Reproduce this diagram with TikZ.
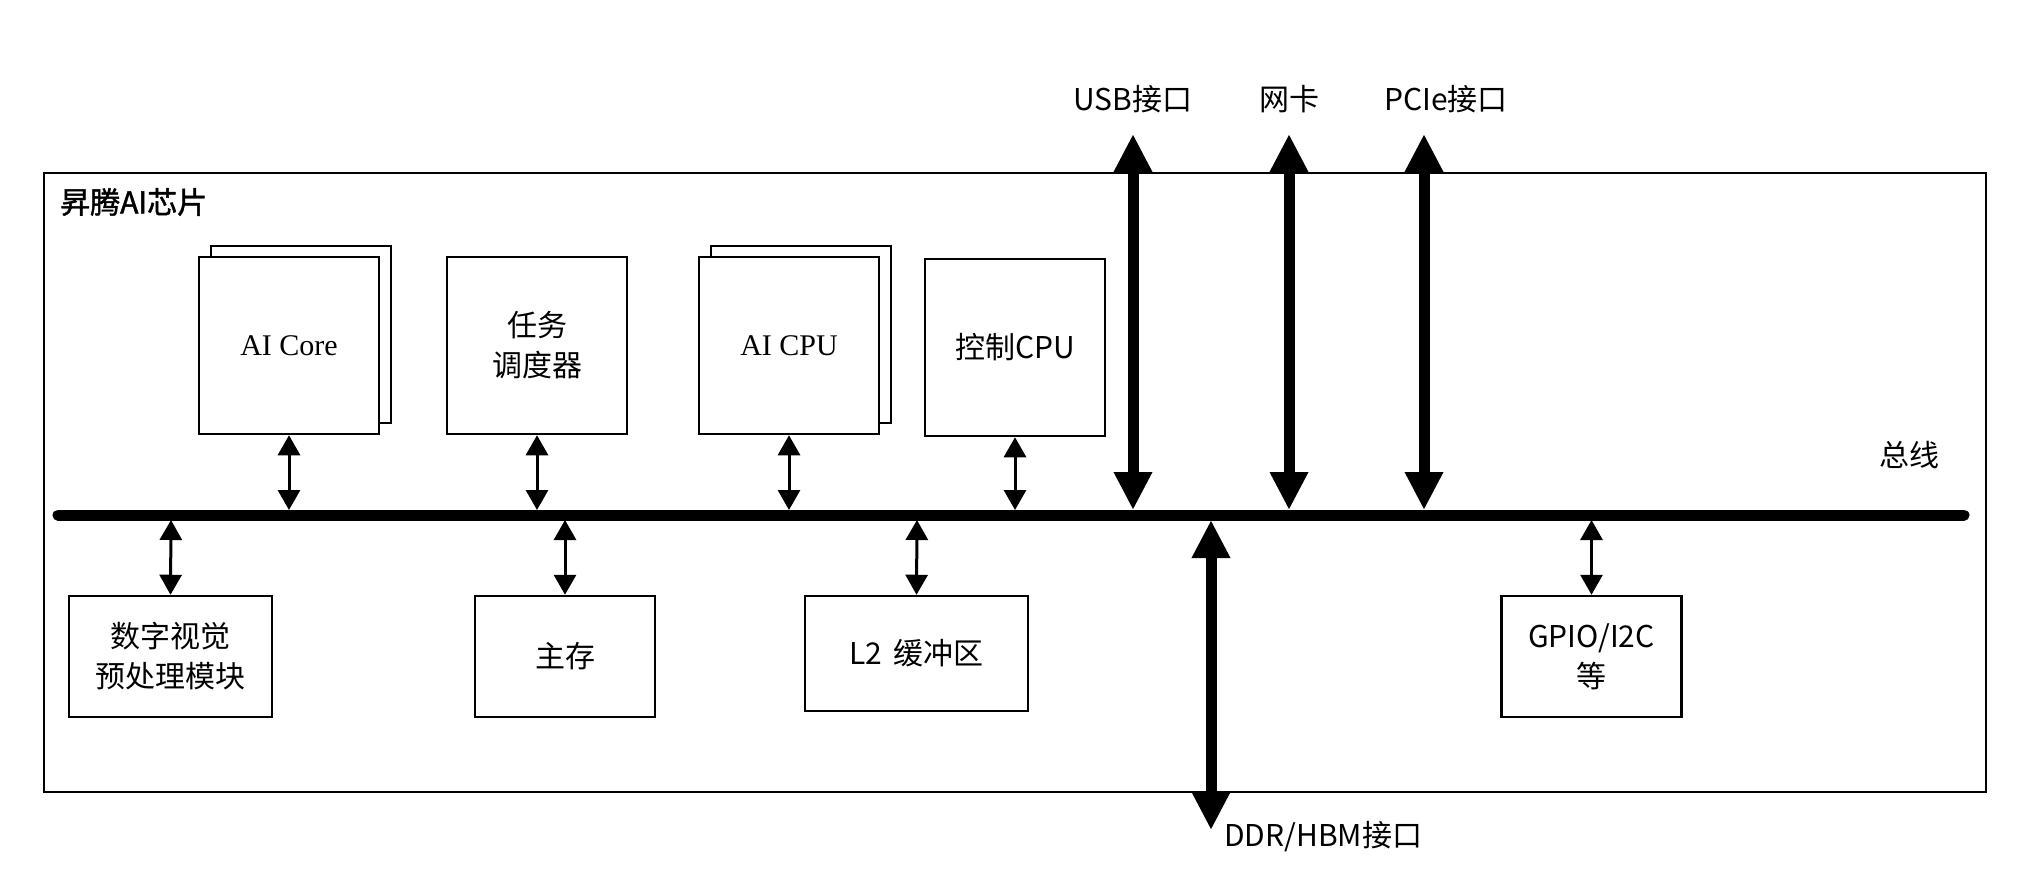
\documentclass[tikz,border=0pt]{standalone}
\usepackage{fontspec}
\setmainfont{Liberation Serif}
\newfontfamily\cjk{Noto Sans CJK SC}
\newfontfamily\cjkbold[FakeBold=1.5]{Noto Sans CJK SC}
\usetikzlibrary{arrows.meta}
\begin{document}
\begin{tikzpicture}[x=1pt,y=-1pt,
  txt/.style={font={\fontsize{30}{40}\selectfont\cjk}, inner sep=0pt, align=center},
  blk/.style={draw, line width=2.5pt, fill=white, inner sep=0pt, align=center,
    minimum width=180pt, minimum height=177pt},
  cblk/.style={blk, font={\fontsize{30}{40}\selectfont\cjk}},
  lblk/.style={blk, font={\fontsize{30}{40}\selectfont}},
  thin/.style={line width=3pt, {Triangle[length=20pt,width=22pt]}-{Triangle[length=20pt,width=22pt]}},
  thick/.style={line width=11pt, {Triangle[length=38pt,width=36pt]}-{Triangle[length=38pt,width=36pt]}},
  busline/.style={line width=11pt, line cap=round}
]
\useasboundingbox[fill=white] (0,0) rectangle (2043,875);

% chip outline
\node[draw, line width=2.5pt, minimum width=1942pt, minimum height=619pt, inner sep=0pt] (chip) at (1015,482.5) {};
\node[txt, font={\fontsize{30}{40}\selectfont\cjkbold}, anchor=west] (title) at (60,202) {昇腾AI芯片};

% top row blocks
\node[draw, line width=2.5pt, fill=white, minimum width=180pt, minimum height=177pt] (aicoreb) at (301,334.5) {};
\node[lblk] (aicore) at (289,345.5) {AI Core};
\node[cblk] (sched) at (537,345.5) {任务\\调度器};
\node[draw, line width=2.5pt, fill=white, minimum width=180pt, minimum height=177pt] (aicpub) at (801,334.5) {};
\node[lblk] (aicpu) at (789,345.5) {AI CPU};
\node[cblk] (ctrl) at (1015,347.5) {控制CPU};

% bottom row blocks
\node[cblk, minimum width=203pt, minimum height=121pt] (dvpp) at (170.5,656.5) {数字视觉\\预处理模块};
\node[cblk, minimum width=180pt, minimum height=121pt] (mem) at (565,656.5) {主存};
\node[cblk, minimum width=223pt, minimum height=115pt] (l2) at (916.5,653.5) {L2\hspace{12pt}缓冲区};
\node[cblk, minimum width=180pt, minimum height=121pt] (gpio) at (1591.5,656.5) {GPIO/I2C\\等};

% bus
\coordinate (busL) at (58,515);
\coordinate (busR) at (1964,515);
\draw[busline] (busL) -- (busR);
\node[txt] (buslabel) at (1909,455) {总线};

% bus attach points (top side)
\coordinate (t1) at (289,510);
\coordinate (t2) at (537,510);
\coordinate (t3) at (789,510);
\coordinate (t4) at (1015,510);
% bus attach points (bottom side)
\coordinate (d1) at (171,520);
\coordinate (d2) at (565,520);
\coordinate (d3) at (917,520);
\coordinate (d4) at (1591.5,520);

\draw[thin] (aicore.south) -- (t1);
\draw[thin] (sched.south) -- (t2);
\draw[thin] (aicpu.south) -- (t3);
\draw[thin] (ctrl.south) -- (t4);
\draw[thin] (d1) -- (dvpp.north);
\draw[thin] (d2) -- (mem.north);
\draw[thin] (d3) -- (l2.north);
\draw[thin] (d4) -- (gpio.north);

% external interfaces
\coordinate (usbT) at (1133,134);
\coordinate (usbB) at (1133,510);
\coordinate (nicT) at (1289,134);
\coordinate (nicB) at (1289,510);
\coordinate (pcieT) at (1424,134);
\coordinate (pcieB) at (1424,510);
\coordinate (ddrT) at (1211,520);
\coordinate (ddrB) at (1211,830);
\draw[thick] (usbT) -- (usbB);
\draw[thick] (nicT) -- (nicB);
\draw[thick] (pcieT) -- (pcieB);
\draw[thick] (ddrT) -- (ddrB);

\node[txt] (usb) at (1133,99) {USB接口};
\node[txt] (nic) at (1289,99) {网卡};
\node[txt] (pcie) at (1446,99) {PCIe接口};
\node[txt, anchor=west] (ddr) at (1224,837) {DDR/HBM接口};
\end{tikzpicture}
\end{document}
